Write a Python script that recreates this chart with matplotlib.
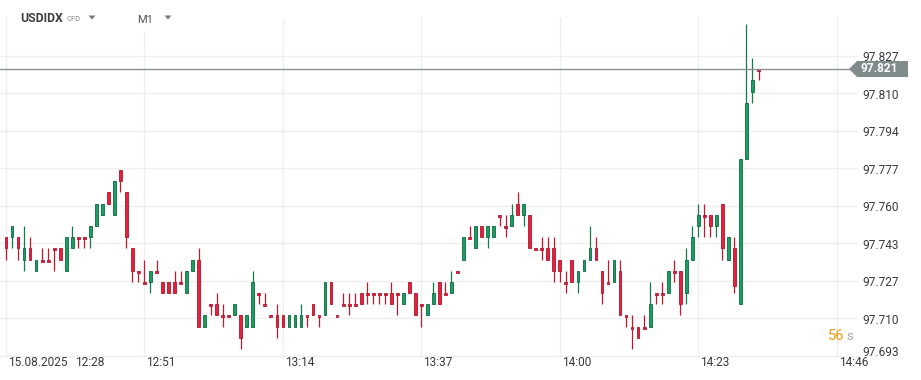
import matplotlib
matplotlib.use('Agg')
import matplotlib.pyplot as plt
from matplotlib.patches import Rectangle, Polygon
from matplotlib.transforms import blended_transform_factory

plt.rcParams['font.family'] = ['Roboto', 'DejaVu Sans']

# ---- data (1-minute candles from 12:28) ----
opens = [97.746, 97.746, 97.746, 97.736, 97.741, 97.731, 97.736, 97.736, 97.741, 97.741,
         97.731, 97.741, 97.746, 97.746, 97.746, 97.751, 97.756, 97.766, 97.756, 97.776,
         97.766, 97.741, 97.731, 97.726, 97.726, 97.731, 97.726, 97.726, 97.726, 97.726,
         97.721, 97.731, 97.736, 97.706, 97.716, 97.716, 97.711, 97.711, 97.711, 97.711,
         97.706, 97.706, 97.721, 97.716, 97.711, 97.711, 97.711, 97.706, 97.706, 97.706,
         97.711, 97.716, 97.711, 97.711, 97.726, 97.711, 97.716, 97.716, 97.716, 97.721,
         97.721, 97.721, 97.721, 97.721, 97.721, 97.721, 97.716, 97.726, 97.721, 97.716,
         97.711, 97.716, 97.726, 97.721, 97.721, 97.731, 97.736, 97.746, 97.741, 97.751,
         97.746, 97.746, 97.756, 97.751, 97.751, 97.761, 97.756, 97.756, 97.741, 97.741,
         97.741, 97.741, 97.736, 97.726, 97.736, 97.726, 97.731, 97.736, 97.741, 97.731,
         97.726, 97.726, 97.731, 97.711, 97.706, 97.706, 97.706, 97.706, 97.721, 97.721,
         97.721, 97.731, 97.731, 97.721, 97.736, 97.751, 97.756, 97.756, 97.751, 97.761,
         97.736, 97.741, 97.716, 97.781, 97.811, 97.821]
highs = [97.746, 97.751, 97.746, 97.751, 97.746, 97.736, 97.741, 97.741, 97.741, 97.741,
         97.746, 97.751, 97.746, 97.746, 97.751, 97.761, 97.761, 97.766, 97.771, 97.776,
         97.766, 97.741, 97.731, 97.736, 97.731, 97.736, 97.726, 97.726, 97.731, 97.731,
         97.731, 97.736, 97.741, 97.711, 97.716, 97.721, 97.716, 97.711, 97.716, 97.711,
         97.711, 97.731, 97.721, 97.721, 97.711, 97.716, 97.711, 97.711, 97.711, 97.716,
         97.711, 97.716, 97.711, 97.726, 97.726, 97.711, 97.721, 97.721, 97.721, 97.721,
         97.726, 97.721, 97.721, 97.721, 97.726, 97.721, 97.721, 97.726, 97.721, 97.716,
         97.716, 97.726, 97.726, 97.726, 97.731, 97.731, 97.746, 97.751, 97.751, 97.751,
         97.751, 97.751, 97.756, 97.756, 97.761, 97.766, 97.761, 97.756, 97.741, 97.746,
         97.746, 97.746, 97.736, 97.731, 97.736, 97.731, 97.736, 97.751, 97.746, 97.731,
         97.736, 97.736, 97.736, 97.711, 97.711, 97.706, 97.711, 97.726, 97.721, 97.726,
         97.731, 97.736, 97.731, 97.741, 97.751, 97.761, 97.761, 97.756, 97.756, 97.761,
         97.746, 97.746, 97.781, 97.841, 97.826, 97.821]
lows = [97.736, 97.741, 97.736, 97.731, 97.736, 97.731, 97.736, 97.736, 97.731, 97.736,
        97.731, 97.741, 97.741, 97.741, 97.741, 97.751, 97.756, 97.761, 97.756, 97.766,
        97.741, 97.726, 97.726, 97.726, 97.721, 97.731, 97.721, 97.721, 97.721, 97.726,
        97.721, 97.731, 97.706, 97.706, 97.711, 97.711, 97.706, 97.711, 97.711, 97.696,
        97.706, 97.706, 97.716, 97.716, 97.711, 97.701, 97.706, 97.706, 97.706, 97.706,
        97.706, 97.711, 97.706, 97.711, 97.716, 97.711, 97.716, 97.711, 97.716, 97.716,
        97.716, 97.716, 97.716, 97.716, 97.716, 97.711, 97.716, 97.721, 97.711, 97.706,
        97.711, 97.716, 97.716, 97.721, 97.721, 97.731, 97.736, 97.746, 97.741, 97.746,
        97.741, 97.746, 97.751, 97.746, 97.751, 97.756, 97.751, 97.741, 97.741, 97.736,
        97.736, 97.726, 97.726, 97.721, 97.726, 97.721, 97.731, 97.736, 97.736, 97.716,
        97.726, 97.726, 97.711, 97.706, 97.696, 97.701, 97.706, 97.706, 97.716, 97.716,
        97.721, 97.726, 97.711, 97.716, 97.736, 97.746, 97.746, 97.746, 97.746, 97.736,
        97.736, 97.721, 97.716, 97.781, 97.806, 97.816]
closes = [97.741, 97.751, 97.741, 97.741, 97.736, 97.736, 97.736, 97.736, 97.741, 97.736,
          97.746, 97.746, 97.746, 97.746, 97.751, 97.761, 97.761, 97.761, 97.771, 97.771,
          97.746, 97.731, 97.731, 97.726, 97.731, 97.731, 97.721, 97.721, 97.721, 97.726,
          97.731, 97.736, 97.706, 97.711, 97.716, 97.711, 97.711, 97.711, 97.716, 97.701,
          97.711, 97.726, 97.721, 97.716, 97.711, 97.706, 97.706, 97.711, 97.711, 97.711,
          97.711, 97.711, 97.711, 97.726, 97.716, 97.711, 97.716, 97.716, 97.716, 97.716,
          97.721, 97.721, 97.721, 97.721, 97.716, 97.721, 97.721, 97.721, 97.711, 97.716,
          97.716, 97.721, 97.716, 97.721, 97.726, 97.731, 97.746, 97.746, 97.751, 97.746,
          97.751, 97.751, 97.756, 97.751, 97.756, 97.756, 97.761, 97.741, 97.741, 97.741,
          97.736, 97.731, 97.731, 97.726, 97.726, 97.731, 97.736, 97.741, 97.736, 97.721,
          97.726, 97.736, 97.711, 97.711, 97.706, 97.701, 97.706, 97.716, 97.721, 97.721,
          97.731, 97.731, 97.716, 97.736, 97.746, 97.756, 97.756, 97.751, 97.756, 97.741,
          97.746, 97.724, 97.781, 97.806, 97.816, 97.821]

start_time = '12:28'
date_label = '15.08.2025'
time_labels = ['12:28', '12:51', '13:14', '13:37', '14:00', '14:23', '14:46']
price_ticks = [97.693, 97.70975, 97.7265, 97.74325, 97.760, 97.77675, 97.7935, 97.81025, 97.827]
price_labels = ['97.693', '97.710', '97.727', '97.743', '97.760', '97.777', '97.794', '97.810', '97.827']
last_price = 97.821
symbol = 'USDIDX'
symbol_kind = 'CFD'
interval = 'M1'
countdown = '56'

# ---- figure ----
W, H = 921, 380
fig = plt.figure(figsize=(W / 100, H / 100), dpi=100)
fig.patch.set_facecolor('white')
ax = fig.add_axes([0, 1 - 358 / H, 858 / W, (358 - 18) / H])
ax.set_facecolor('white')
for s in ax.spines.values():
    s.set_visible(False)

def to_min(t):
    h, m = t.split(':')
    return int(h) * 60 + int(m)

t0 = to_min(start_time)
px_per_min = 6.02
ax.set_xlim(-6 / px_per_min, (858 - 6) / px_per_min)
ax.set_ylim(97.692, 97.8439)

grid_c = '#efefef'
xt = [to_min(t) - t0 for t in time_labels]
for x in xt:
    ax.axvline(x, color=grid_c, lw=1.0, zorder=0)
for y in price_ticks:
    ax.axhline(y, color=grid_c, lw=1.0, zorder=0)

ax.set_xticks([])
ax.set_yticks([])

# candles
RED_F, RED_E, RED_W = '#e6213c', '#b3152c', '#c0182f'
GRN_F, GRN_E, GRN_W = '#1c9d62', '#0e6a3f', '#157a4b'
bw = 0.46
min_body = 0.0009
for i, (o, h, l, c) in enumerate(zip(opens, highs, lows, closes)):
    up = c > o
    fc, ec, wc = (GRN_F, GRN_E, GRN_W) if up else (RED_F, RED_E, RED_W)
    ax.plot([i, i], [l, h], color=wc, lw=0.9, zorder=2, solid_capstyle='butt')
    top = max(o, c)
    bot = min(o, c)
    if top - bot < min_body:
        bot = top - min_body
    ax.add_patch(Rectangle((i - bw / 2, bot), bw, top - bot, facecolor=fc,
                           edgecolor=ec, lw=0.6, zorder=3))

# current price line
ax.axhline(last_price, color='#7f8b8c', lw=0.9, zorder=4)

# right price labels
tr = blended_transform_factory(fig.transFigure, ax.transData)
for v, lab in zip(price_ticks, price_labels):
    off = -0.0008
    if lab == price_labels[0]:
        off = 0.0013
    fig.text(862 / W, v + off, lab, transform=tr, ha='left', va='center',
             fontsize=8.6, color='#3a3a3a')

# price tag
def fx(px):
    return px / W

def fy(py):
    return 1 - py / H

tag = Polygon([(fx(849), fy(69)), (fx(857), fy(61)), (fx(908), fy(61)),
               (fx(908), fy(77)), (fx(857), fy(77))], closed=True,
              transform=fig.transFigure, facecolor='#808b8c', edgecolor='none', zorder=5)
fig.patches.append(tag)
fig.text(fx(860), fy(69), f'{last_price:.3f}', ha='left', va='center', fontsize=8.6,
         color='white', fontweight='bold', zorder=6)

# time labels
for i, t in enumerate(time_labels):
    x = 6 + (to_min(t) - t0) * px_per_min
    if i == 0:
        fig.text(fx(8), fy(362), date_label, ha='left', va='center', fontsize=8.6, color='#3a3a3a')
        fig.text(fx(75), fy(362), t, ha='left', va='center', fontsize=8.6, color='#3a3a3a')
    else:
        fig.text(fx(x + 2), fy(362), t, ha='left', va='center', fontsize=8.6, color='#3a3a3a')

# countdown
fig.text(fx(828), fy(336), countdown, ha='left', va='center', fontsize=10.5, color='#f39c12')
fig.text(fx(846), fy(336.5), 's', ha='left', va='center', fontsize=9.5, color='#a8a8a8')

# header
fig.patches.append(Rectangle((fx(100), fy(31)), fx(120), 31 / H, transform=fig.transFigure,
                             facecolor='white', edgecolor='none', zorder=5))
fig.text(fx(20), fy(18), symbol, ha='left', va='center', fontsize=8.8, fontweight='bold',
         color='#3c4043', zorder=6)
fig.text(fx(66), fy(19), symbol_kind, ha='left', va='center', fontsize=5.5,
         color='#8a8a8a', zorder=6)
for cx in (92, 168):
    fig.patches.append(Polygon([(fx(cx - 3.5), fy(15.5)), (fx(cx + 3.5), fy(15.5)), (fx(cx), fy(19.5))],
                               closed=True, transform=fig.transFigure, facecolor='#777777',
                               edgecolor='none', zorder=6))
fig.text(fx(137), fy(20), interval, ha='left', va='center', fontsize=8, color='#555555', zorder=6)

fig.savefig('out.png', dpi=100, facecolor='white')
